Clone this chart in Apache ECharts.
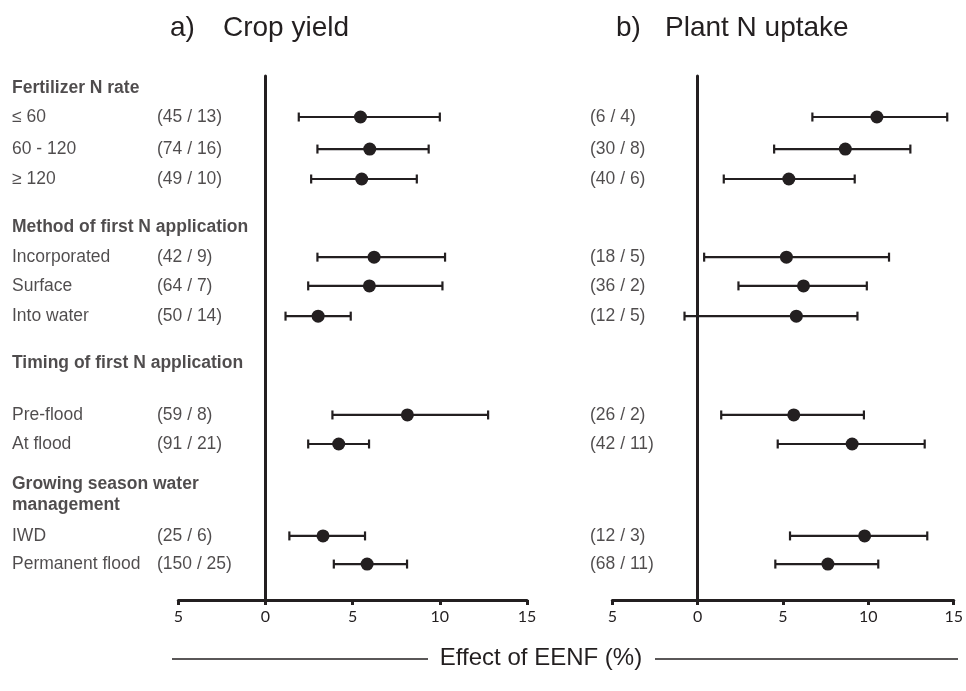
<!DOCTYPE html>
<html>
<head>
<meta charset="utf-8">
<title>Effect of EENF</title>
<script src="https://cdn.jsdelivr.net/npm/echarts@6/dist/echarts.min.js"></script>
<style>
  html, body { margin: 0; padding: 0; background: #fff; }
  #chart { width: 966px; height: 691px; }
</style>
</head>
<body>
<div id="chart"></div>
<script>
// row labels and their vertical position (axis units, 0 = top of panel)
const rowNames = ['≤ 60', '60 - 120', '≥ 120', 'Incorporated', 'Surface', 'Into water',
  'Pre-flood', 'At flood', 'IWD', 'Permanent flood']
const rowY = [1.37, 2.44, 3.44, 6.05, 7.01, 8.02, 11.32, 12.29, 15.36, 16.30]
const groupNames = ['Fertilizer N rate', 'Method of first N application',
  'Timing of first N application', 'Growing season water\nmanagement']
const groupY = [0.40, 5.04, 9.59, 13.98]

// a) crop yield
const yieldCounts = ['(45 / 13)', '(74 / 16)', '(49 / 10)', '(42 / 9)', '(64 / 7)', '(50 / 14)',
  '(59 / 8)', '(91 / 21)', '(25 / 6)', '(150 / 25)']
const yieldMean = [5.45, 5.98, 5.52, 6.23, 5.96, 3.02, 8.14, 4.2, 3.3, 5.83]
const yieldLow = [1.91, 2.98, 2.62, 2.98, 2.45, 1.15, 3.84, 2.45, 1.37, 3.92]
const yieldHigh = [10.0, 9.36, 8.68, 10.3, 10.15, 4.89, 12.77, 5.94, 5.71, 8.12]

// b) plant N uptake
const uptakeCounts = ['(6 / 4)', '(30 / 8)', '(40 / 6)', '(18 / 5)', '(36 / 2)', '(12 / 5)',
  '(26 / 2)', '(42 / 11)', '(12 / 3)', '(68 / 11)']
const uptakeMean = [10.5, 8.65, 5.34, 5.2, 6.2, 5.78, 5.63, 9.05, 9.78, 7.63]
const uptakeLow = [6.72, 4.48, 1.53, 0.38, 2.39, -0.77, 1.38, 4.69, 5.41, 4.55]
const uptakeHigh = [14.62, 12.46, 9.2, 11.21, 9.91, 9.36, 9.74, 13.3, 13.45, 10.58]

const xTicks = { min: -5, max: 15, interval: 5 }

const ink = '#231f20'
const textFont = '"Liberation Sans", Arial, sans-serif'

const chart = echarts.init(document.getElementById('chart'))

function xAxisFor(gridIndex) {
  return {
    type: 'value',
    gridIndex: gridIndex,
    min: xTicks.min,
    max: xTicks.max,
    interval: xTicks.interval,
    axisLine: { onZero: false, lineStyle: { color: ink, width: 3 } },
    axisTick: { length: 5, lineStyle: { color: ink, width: 3 } },
    axisLabel: {
      color: ink, fontSize: 16, fontFamily: 'Lato, sans-serif', margin: 9,
      formatter: v => String(Math.abs(v))
    },
    splitLine: { show: false }
  }
}

function yAxisFor(gridIndex) {
  return {
    type: 'value',
    gridIndex: gridIndex,
    inverse: true,
    min: 0,
    max: 17.5,
    axisLine: { show: true, onZero: true, lineStyle: { color: ink, width: 3 } },
    axisTick: { show: false },
    axisLabel: { show: false },
    splitLine: { show: false }
  }
}

function errorBars(idx, low, high) {
  return {
    type: 'custom',
    xAxisIndex: idx,
    yAxisIndex: idx,
    silent: true,
    clip: false,
    data: rowY.map((y, i) => [low[i], y, high[i]]),
    encode: { x: [0, 2], y: 1 },
    renderItem: function(params, api) {
      const lo = api.coord([api.value(0), api.value(1)])
      const hi = api.coord([api.value(2), api.value(1)])
      const cap = 4.5
      const style = { stroke: ink, lineWidth: 2.2 }
      return {
        type: 'group',
        children: [
          { type: 'line', shape: { x1: lo[0], y1: lo[1], x2: hi[0], y2: hi[1] }, style: style },
          { type: 'line', shape: { x1: lo[0], y1: lo[1] - cap, x2: lo[0], y2: lo[1] + cap }, style: style },
          { type: 'line', shape: { x1: hi[0], y1: hi[1] - cap, x2: hi[0], y2: hi[1] + cap }, style: style }
        ]
      }
    }
  }
}

function dots(idx, mean) {
  return {
    type: 'scatter',
    xAxisIndex: idx,
    yAxisIndex: idx,
    silent: true,
    symbol: 'circle',
    symbolSize: 13,
    itemStyle: { color: ink, opacity: 1 },
    z: 5,
    data: rowY.map((y, i) => [mean[i], y])
  }
}

// text columns drawn as invisible points with labels, offset left of the panel
function textColumn(idx, texts, ys, offsetX, bold) {
  return {
    type: 'scatter',
    xAxisIndex: idx,
    yAxisIndex: idx,
    silent: true,
    symbolSize: 0,
    clip: false,
    data: texts.map((t, i) => ({ name: t, value: [xTicks.min, ys[i]] })),
    label: {
      show: true,
      formatter: '{b}',
      position: [offsetX, 0],
      align: 'left',
      verticalAlign: 'middle',
      color: ink,
      fontSize: 17.5,
      lineHeight: 21,
      fontWeight: bold ? 'bold' : 'normal',
      fontFamily: textFont
    }
  }
}

chart.setOption({
  animation: false,
  backgroundColor: '#fff',
  grid: [
    { left: 178.3, width: 348.7, top: 76, height: 524 },
    { left: 612.3, width: 348.4, top: 76, height: 524 }
  ],
  xAxis: [xAxisFor(0), xAxisFor(1)],
  yAxis: [yAxisFor(0), yAxisFor(1)],
  series: [
    textColumn(0, groupNames, groupY, -166.3, true),
    textColumn(0, rowNames, rowY, -166.3, false),
    textColumn(0, yieldCounts, rowY, -21.3, false),
    textColumn(1, uptakeCounts, rowY, -22.3, false),
    errorBars(0, yieldLow, yieldHigh),
    errorBars(1, uptakeLow, uptakeHigh),
    dots(0, yieldMean),
    dots(1, uptakeMean)
  ],
  graphic: [
    { type: 'text', left: 170, top: 14, style: { text: 'a)', font: '28px ' + textFont, fill: ink } },
    { type: 'text', left: 223, top: 14, style: { text: 'Crop yield', font: '28px ' + textFont, fill: ink } },
    { type: 'text', left: 616, top: 14, style: { text: 'b)', font: '28px ' + textFont, fill: ink } },
    { type: 'text', left: 665, top: 14, style: { text: 'Plant N uptake', font: '28px ' + textFont, fill: ink } },
    { type: 'line', shape: { x1: 172, y1: 659, x2: 428, y2: 659 }, style: { stroke: ink, lineWidth: 1.5 } },
    { type: 'line', shape: { x1: 655, y1: 659, x2: 958, y2: 659 }, style: { stroke: ink, lineWidth: 1.5 } },
    {
      type: 'text', x: 541, y: 658,
      style: { text: 'Effect of EENF (%)', font: '24px ' + textFont, fill: ink, align: 'center', verticalAlign: 'middle' }
    }
  ]
})

window.addEventListener('resize', function() {
  chart.resize()
})
</script>
</body>
</html>
